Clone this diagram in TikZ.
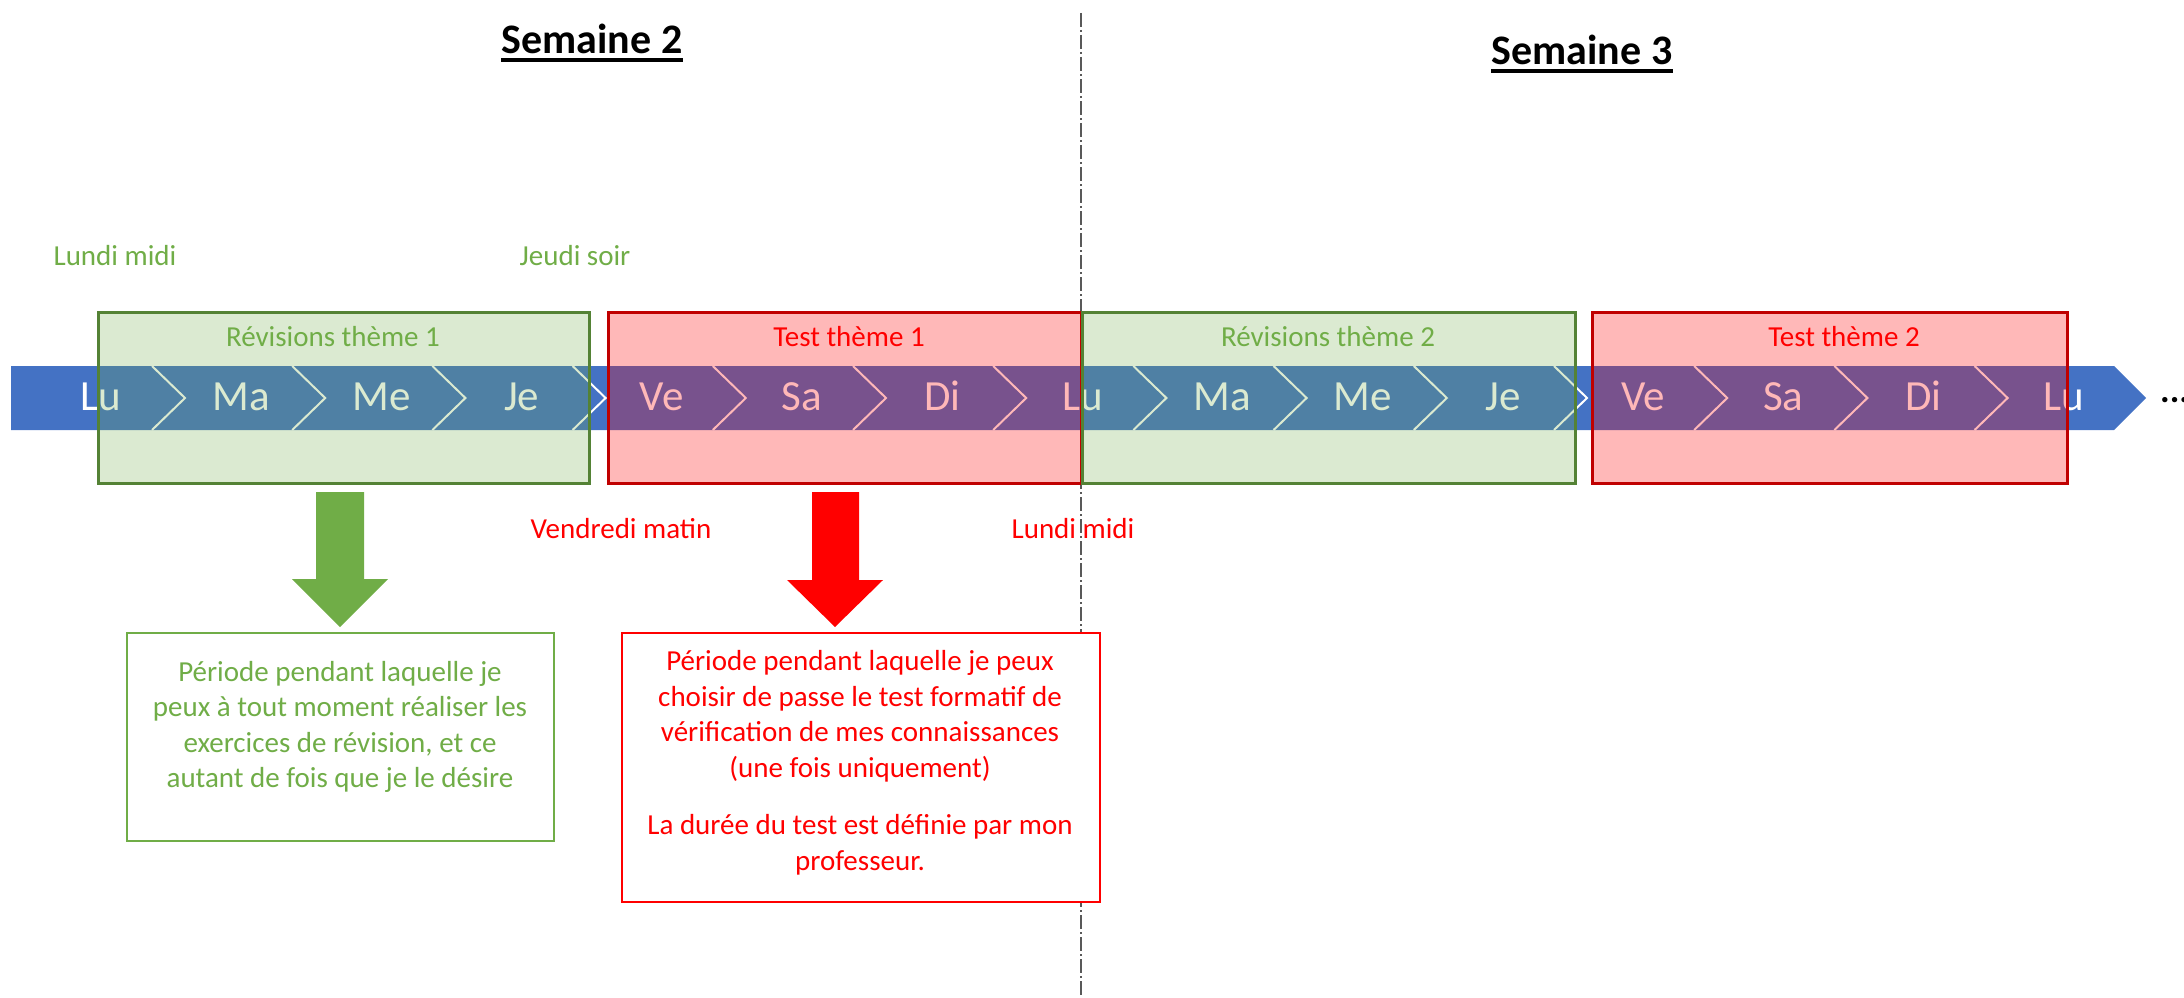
\documentclass[tikz,border=0pt]{standalone}
\usepackage{fontspec}
\setmainfont{Carlito}
\definecolor{barblue}{HTML}{4472C4}
\definecolor{ogreen}{HTML}{70AD47}
\definecolor{dgreen}{HTML}{548235}
\definecolor{dred}{HTML}{C00000}
\definecolor{lred}{HTML}{FF0000}
\definecolor{sepgray}{HTML}{595959}
\begin{document}
\begin{tikzpicture}[x=1pt,y=-1pt,
  lbl/.style={inner sep=0pt, anchor=base, font=\fontsize{29}{35}\selectfont},
  day/.style={inner sep=0pt, anchor=base, text=white, font=\fontsize{43}{50}\selectfont},
  period/.style={line width=3pt, anchor=north west, inner sep=0pt, minimum height=171pt},
  gper/.style={period, draw=dgreen, fill=ogreen, fill opacity=0.25},
  rper/.style={period, draw=dred, fill=lred, fill opacity=0.28},
  title/.style={inner sep=0pt, anchor=base, font=\fontsize{42}{50}\selectfont\bfseries},
  infobox/.style={fill=white, line width=1.5pt, anchor=north west, inner sep=0pt},
  infotext/.style={inner sep=0pt, align=center, font=\fontsize{29}{35.5}\selectfont},
  chev/.style={white, line width=2pt},
  sep/.style={sepgray, line width=1.5pt, dash pattern=on 14pt off 3pt on 2pt off 3pt}
]
\useasboundingbox (0,0) rectangle (2184,998);

% separator
\coordinate (sepTop) at (1081,13);
\coordinate (sepBot) at (1081,998);
\draw[sep] (sepTop) -- (sepBot);

% titles
\node[title] (s2) at (592,53) {Semaine 2};
\draw[line width=3.5pt] ([yshift=-7pt]s2.base west) -- ([yshift=-7pt]s2.base east);
\node[title] (s3) at (1582,64) {Semaine 3};
\draw[line width=3.5pt] ([yshift=-7pt]s3.base west) -- ([yshift=-7pt]s3.base east);

% timeline bar
\fill[barblue] (11,366) -- (2114,366) -- (2146,398) -- (2114,430) -- (11,430) -- cycle;
\foreach \k in {0,...,13}
  \draw[chev] ({152+140.2*\k},366) -- ({185+140.2*\k},398) -- ({152+140.2*\k},430);
\foreach \d [count=\k from 0] in {Lu,Ma,Me,Je,Ve,Sa,Di,Lu,Ma,Me,Je,Ve,Sa,Di,Lu}
  \node[day] (d\k) at ({101+140.2*\k},410) {\d};
\node[inner sep=0pt, anchor=base west, font=\fontsize{36}{40}\selectfont\bfseries] (dots) at (2160,402) {...};

% period boxes
\node[gper, minimum width=491pt] (g1) at (97,311) {};
\node[rper, minimum width=473pt] (r1) at (607,311) {};
\node[gper, minimum width=493pt] (g2) at (1081,311) {};
\node[rper, minimum width=475pt] (r2) at (1591,311) {};
\node[lbl, text=ogreen] (g1t) at (333,346) {Révisions thème 1};
\node[lbl, text=lred] (r1t) at (849,346) {Test thème 1};
\node[lbl, text=ogreen] (g2t) at (1328,346) {Révisions thème 2};
\node[lbl, text=lred] (r2t) at (1844,346) {Test thème 2};

% time labels
\node[lbl, text=ogreen] (lm1) at (115,265) {Lundi midi};
\node[lbl, text=ogreen] (js) at (575,265) {Jeudi soir};
\node[lbl, text=lred] (vm) at (621,538) {Vendredi matin};
\node[lbl, text=lred] (lm2) at (1073,538) {Lundi midi};

% block arrows
\fill[ogreen] (316,492) -- (364,492) -- (364,579) -- (388,579) -- (340,627) -- (292,579) -- (316,579) -- cycle;
\fill[lred] (812,492) -- (859,492) -- (859,580) -- (883,580) -- (835,627) -- (787,580) -- (812,580) -- cycle;

% info boxes
\node[infobox, draw=ogreen, minimum width=427pt, minimum height=208pt] (gbox) at (126,632) {};
\node[infotext, text=ogreen] (gtext) at (340,727) {Période pendant laquelle je\\peux à tout moment réaliser les\\exercices de révision, et ce\\autant de fois que je le désire};
\node[infobox, draw=lred, minimum width=478pt, minimum height=269pt] (rbox) at (621,632) {};
\node[infotext, text=lred] (rtext) at (860,763) {Période pendant laquelle je peux\\choisir de passe le test formatif de\\vérification de mes connaissances\\(une fois uniquement)\\[22pt]La durée du test est définie par mon\\professeur.};
\end{tikzpicture}
\end{document}
